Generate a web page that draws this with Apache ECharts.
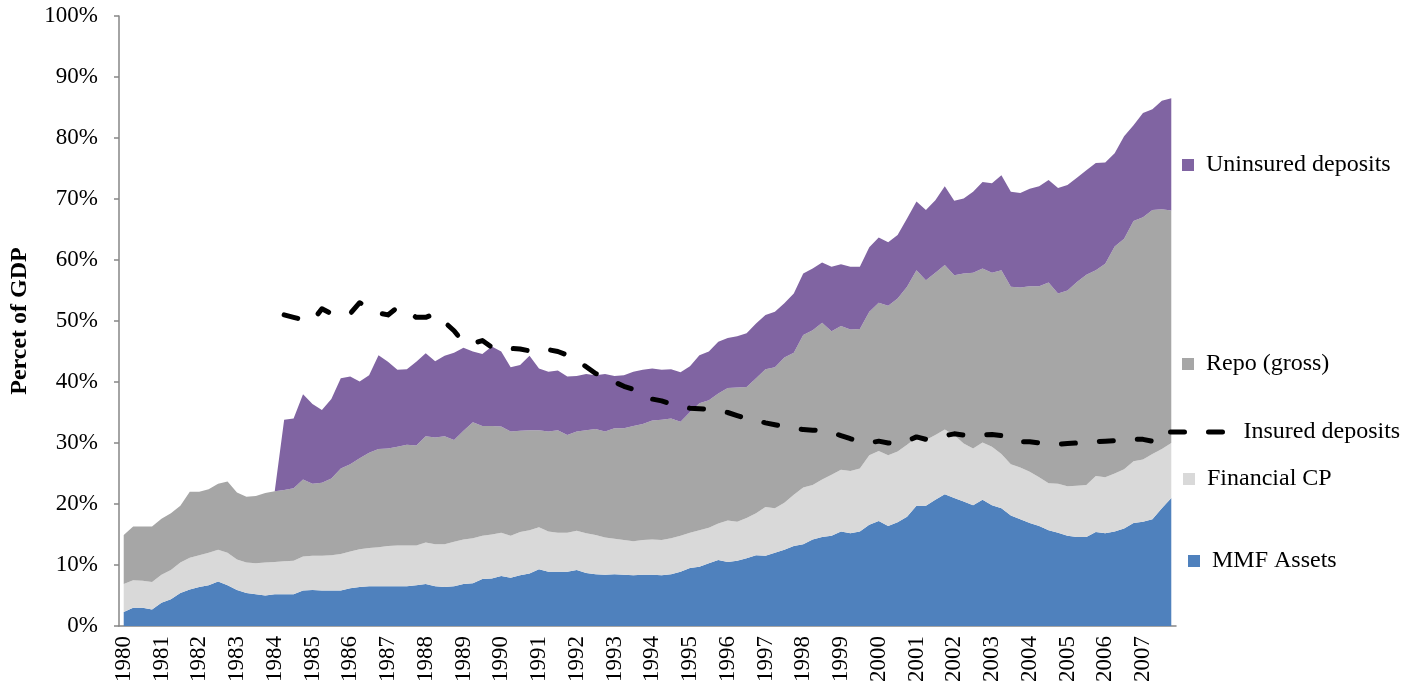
<!DOCTYPE html>
<html><head><meta charset="utf-8">
<script src="https://cdn.jsdelivr.net/npm/echarts@6/dist/echarts.min.js"></script>
<style>html,body{margin:0;padding:0;background:#fff}#c{width:1420px;height:693px}</style>
</head><body><div id="c"></div>
<script>
// Quarterly data, 1980 Q1 – 2007 Q4, percent of GDP (one row per year)
const years = [1980,1981,1982,1983,1984,1985,1986,1987,1988,1989,1990,1991,1992,1993,
               1994,1995,1996,1997,1998,1999,2000,2001,2002,2003,2004,2005,2006,2007];
const quarters = ['Q1','Q2','Q3','Q4'];

const mmfAssets = [
  2.3,3.0,3.0,2.7,  3.8,4.4,5.4,6.0,  6.4,6.7,7.3,6.7,  5.9,5.4,5.2,5.0,
  5.2,5.2,5.2,5.8,  5.9,5.8,5.8,5.8,  6.2,6.4,6.5,6.5,  6.5,6.5,6.5,6.7,
  6.9,6.5,6.4,6.5,  6.9,7.0,7.7,7.8,  8.2,7.9,8.3,8.6,  9.3,8.9,8.9,8.9,
  9.2,8.7,8.5,8.4,  8.5,8.4,8.3,8.4,  8.4,8.3,8.5,8.9,  9.5,9.7,10.3,10.8,
  10.5,10.7,11.1,11.6, 11.5,12.0,12.5,13.1, 13.4,14.2,14.6,14.8, 15.5,15.2,15.5,16.6,
  17.2,16.4,17.0,17.9, 19.7,19.7,20.7,21.6, 21.0,20.4,19.8,20.7, 19.8,19.3,18.1,17.5,
  16.9,16.4,15.7,15.3, 14.8,14.6,14.6,15.4, 15.2,15.5,16.0,16.9, 17.1,17.5,19.3,21.0
];
const financialCP = [
  4.6,4.5,4.4,4.5,  4.6,4.8,5.0,5.2,  5.2,5.3,5.2,5.3,  5.0,5.0,5.1,5.4,
  5.3,5.4,5.5,5.6,  5.6,5.7,5.8,6.0,  6.0,6.2,6.3,6.4,  6.6,6.7,6.7,6.5,
  6.8,6.9,7.0,7.3,  7.3,7.4,7.1,7.2,  7.1,6.9,7.1,7.1,  6.9,6.6,6.4,6.4,
  6.4,6.5,6.4,6.1,  5.8,5.7,5.6,5.7,  5.8,5.8,5.9,5.9,  5.8,6.0,5.8,6.0,
  6.8,6.4,6.6,6.9,  8.0,7.3,7.7,8.4,  9.3,8.9,9.4,10.0, 10.1,10.2,10.3,11.4,
  11.5,11.6,11.6,11.8, 11.2,10.8,10.6,10.6, 10.3,9.5,9.3,9.4, 9.6,8.9,8.4,8.5,
  8.4,8.0,7.7,8.0,  8.1,8.4,8.5,9.2,  9.2,9.5,9.7,10.1, 10.2,10.7,9.7,9.0
];
const repoGross = [
  8.0,8.8,8.9,9.1,  9.2,9.3,9.3,10.8,  10.4,10.4,10.8,11.7,  11.0,10.8,11.0,11.4,
  11.6,11.7,11.9,12.6,  11.8,12.0,12.6,14.0,  14.3,14.9,15.6,16.1,  16.0,16.2,16.5,16.4,
  17.4,17.5,17.7,16.7,  17.8,19.0,18.0,17.8,  17.4,17.1,16.6,16.4,  15.9,16.4,16.8,16.0,
  16.3,16.9,17.4,17.4,  18.1,18.3,18.9,19.0,  19.5,19.7,19.6,18.7,  19.8,20.8,20.9,21.3,
  21.7,22.0,21.5,22.1,  22.6,23.1,23.8,23.3,  25.0,25.4,25.7,23.5,  23.6,23.2,22.9,23.5,
  24.3,24.5,25.1,25.9,  27.4,26.2,26.6,27.0,  26.2,27.9,28.8,28.5,  28.5,30.1,29.1,29.5,
  30.4,31.3,32.9,31.2,  32.1,33.4,34.5,33.7,  35.0,37.2,37.8,39.4,  39.7,40.0,39.3,38.1
];
const uninsuredDeposits = [
  0,0,0,0,  0,0,0,0,  0,0,0,0,  0,0,0,0,
  0,11.5,11.4,14.0,  13.1,11.9,13.0,14.8,  14.4,12.6,12.7,15.4,  14.2,12.6,12.4,13.7,
  13.6,12.5,13.2,14.3,  13.6,11.6,11.8,13.0,  12.3,10.5,10.8,12.2,  10.1,9.8,9.8,9.6,
  9.1,9.2,8.8,9.4,  8.6,8.7,8.9,8.9,  8.5,8.2,8.1,8.1,  7.5,7.9,8.0,8.5,
  8.2,8.4,8.8,9.0,  8.9,9.1,8.9,9.7,  10.1,10.1,9.9,10.6,  10.1,10.3,10.2,10.6,
  10.7,10.4,10.4,11.2,  11.3,11.5,11.9,12.9,  12.2,12.3,13.3,14.2,  14.7,15.6,15.6,15.5,
  16.0,16.4,16.8,17.3,  17.3,17.1,17.1,17.6,  16.6,15.3,16.8,15.7,  17.1,16.5,17.8,18.4
];
const insuredDeposits = [
  null,null,null,null,  null,null,null,null,  null,null,null,null,  null,null,null,null,
  null,51.0,50.6,50.2,  50.0,52.0,51.2,51.0,  51.2,53.0,52.2,51.3,  51.0,52.2,51.7,50.6,
  50.6,51.2,49.8,48.4,  46.5,46.3,46.8,45.7,  45.3,45.5,45.4,45.1,  45.5,45.3,45.0,44.4,
  43.6,42.5,41.4,40.8,  40.0,39.3,38.8,37.9,  37.2,36.9,36.4,36.0,  35.7,35.6,35.5,35.3,
  35.0,34.5,34.0,33.7,  33.3,33.0,32.7,32.5,  32.2,32.1,32.0,31.8,  31.2,30.7,30.3,30.0,
  30.3,30.0,29.9,30.3,  31.0,30.6,30.8,31.2,  31.5,31.3,31.2,31.3,  31.4,31.2,30.5,30.2,
  30.2,30.0,29.8,29.8,  29.9,30.0,30.1,30.2,  30.3,30.4,30.5,30.6,  30.6,30.3,30.0,30.2
];

const categories = [];
years.forEach(y => quarters.forEach(q => categories.push(y + ' ' + q)));

const FONT = "'Liberation Serif','Times New Roman',serif";
const AXIS = '#868686';
const DASH = [14, 24];

function areaSeries(name, data, color) {
  return {
    name, type: 'line', stack: 'total', data, symbol: 'none', silent: true,
    lineStyle: { width: 0 }, itemStyle: { color },
    areaStyle: { color, opacity: 1 }
  };
}

const legendBase = {
  orient: 'vertical', padding: 0, itemWidth: 12, itemHeight: 12,
  selectedMode: false,
  textStyle: { fontFamily: FONT, fontSize: 24, color: '#000', padding: [0, 0, 0, 7] }
};

const option = {
  animation: false,
  backgroundColor: '#fff',
  grid: { left: 119, right: 244, top: 16, bottom: 67, containLabel: false },
  xAxis: {
    type: 'category', data: categories, boundaryGap: true,
    axisLine: { lineStyle: { color: AXIS, width: 1.5 } },
    axisTick: { interval: 3, length: 6, lineStyle: { color: AXIS, width: 1.5 } },
    axisLabel: {
      interval: 3, rotate: 90, margin: 10, color: '#000',
      fontFamily: FONT, fontSize: 23,
      formatter: v => v.split(' ')[0]
    }
  },
  yAxis: {
    type: 'value', min: 0, max: 100, interval: 10,
    name: 'Percet of GDP', nameLocation: 'middle', nameGap: 87,
    nameTextStyle: { fontFamily: FONT, fontSize: 24, fontWeight: 'bold', color: '#000' },
    axisLine: { show: true, lineStyle: { color: AXIS, width: 1.5 } },
    axisTick: { show: true, length: 5, lineStyle: { color: AXIS, width: 1.5 } },
    splitLine: { show: false },
    axisLabel: { formatter: '{value}%', margin: 21, color: '#000', fontFamily: FONT, fontSize: 23 }
  },
  legend: [
    Object.assign({}, legendBase, { left: 1182, top: 153, data: [{ name: 'Uninsured deposits', icon: 'rect' }] }),
    Object.assign({}, legendBase, { left: 1182, top: 352, data: [{ name: 'Repo (gross)', icon: 'rect' }] }),
    Object.assign({}, legendBase, { left: 1168, top: 420, itemWidth: 62,
      textStyle: Object.assign({}, legendBase.textStyle, { padding: [0, 0, 0, 6] }),
      data: [{
        name: 'Insured deposits',
        itemStyle: { opacity: 0 },
        lineStyle: { width: 5, color: '#000', type: DASH, cap: 'round' }
      }] }),
    Object.assign({}, legendBase, { left: 1183, top: 467, data: [{ name: 'Financial CP', icon: 'rect' }] }),
    Object.assign({}, legendBase, { left: 1188, top: 549, data: [{ name: 'MMF Assets', icon: 'rect' }] })
  ],
  series: [
    areaSeries('MMF Assets', mmfAssets, '#4F81BD'),
    areaSeries('Financial CP', financialCP, '#D9D9D9'),
    areaSeries('Repo (gross)', repoGross, '#A6A6A6'),
    areaSeries('Uninsured deposits', uninsuredDeposits, '#8064A2'),
    {
      name: 'Insured deposits', type: 'line', data: insuredDeposits, symbol: 'none',
      silent: true, z: 5, connectNulls: false,
      itemStyle: { color: '#000' },
      lineStyle: { color: '#000', width: 5, type: DASH, cap: 'round', join: 'round' }
    }
  ]
};

echarts.init(document.getElementById('c'), null, { renderer: 'canvas' }).setOption(option);
</script>
</body></html>
